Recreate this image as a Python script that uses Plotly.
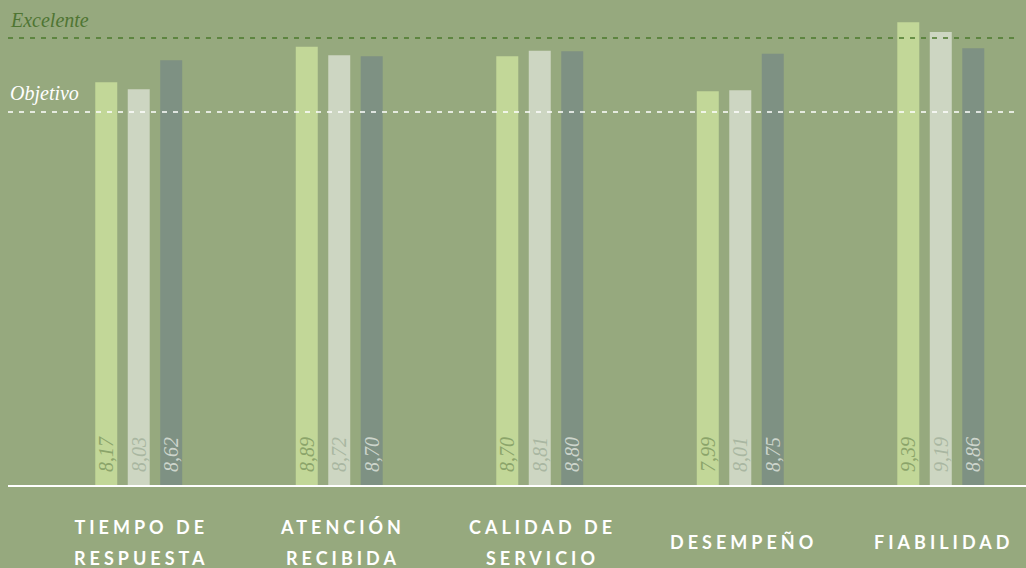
import plotly.graph_objects as go

# ---- data ----
categories = ["TIEMPO DE<br>RESPUESTA", "ATENCIÓN<br>RECIBIDA", "CALIDAD DE<br>SERVICIO",
              "DESEMPEÑO", "FIABILIDAD"]
series_a = [8.17, 8.89, 8.70, 7.99, 9.39]
series_b = [8.03, 8.72, 8.81, 8.01, 9.19]
series_c = [8.62, 8.70, 8.80, 8.75, 8.86]
excelente = 9.07
objetivo = 7.57
y_max = 9.84

# ---- styles ----
BG = "#96a97e"
bar_colors = ["#c2d798", "#cdd6c2", "#7e9183"]
text_colors = ["#8ba46a", "#a9b6a1", "#cdd5cc"]
series = [series_a, series_b, series_c]

def fmt(v):
    # leading no-break spaces give padding from the baseline
    return "\u00a0\u00a0" + f"{v:.2f}".replace(".", ",")

fig = go.Figure()
for vals, bc, tc in zip(series, bar_colors, text_colors):
    fig.add_trace(go.Bar(
        x=categories, y=vals,
        marker=dict(color=bc, line=dict(width=0)),
        text=[fmt(v) for v in vals],
        textposition="inside",
        insidetextanchor="start",
        textangle=-90,
        constraintext="none",
        textfont=dict(family="Liberation Serif", size=20, style="italic", color=tc),
        hoverinfo="skip",
    ))

# reference lines
fig.add_shape(type="line", xref="paper", x0=0, x1=0.9902, yref="y", y0=excelente, y1=excelente,
              line=dict(color="#4b792d", width=1.5, dash="5px,6px"), layer="above")
fig.add_shape(type="line", xref="paper", x0=0, x1=0.9902, yref="y", y0=objetivo, y1=objetivo,
              line=dict(color="white", width=1.5, dash="5px,6px"), layer="above")

fig.add_annotation(text="Excelente", xref="paper", x=0, xanchor="left", yref="y", y=excelente,
                   yanchor="middle", yshift=18, showarrow=False,
                   font=dict(family="Liberation Serif", size=20, style="italic", color="#4f7533"))
fig.add_annotation(text="Objetivo", xref="paper", x=0, xanchor="left", yref="y", y=objetivo,
                   yanchor="middle", yshift=18, showarrow=False,
                   font=dict(family="Liberation Serif", size=20, style="italic", color="white"))

# category labels (letter-spaced, wide line spacing)
for cat in categories:
    lines = cat.split("<br>")
    txt = "<br>".join(f"<span style='font-size:18px;letter-spacing:4px'>{ln}</span>" for ln in lines)
    fig.add_annotation(text=txt, xref="x", x=cat, yref="paper", y=-0.118, yanchor="middle",
                       xanchor="center", xshift=3, showarrow=False,
                       font=dict(family="Lato", size=24, weight=700, color="white"))

fig.update_layout(
    width=1026, height=568,
    margin=dict(l=8, r=0, t=0, b=83),
    paper_bgcolor=BG, plot_bgcolor=BG,
    barmode="group", bargap=0.514, bargroupgap=0.323,
    showlegend=False,
    uniformtext=dict(minsize=20, mode="show"),
    xaxis=dict(range=[-0.652, 4.425], showticklabels=False, showgrid=False, zeroline=False,
               showline=True, linecolor="white", linewidth=1.5, ticks=""),
    yaxis=dict(range=[0, y_max], visible=False, showgrid=False, zeroline=False),
)

fig.write_html("out.html", config={"displayModeBar": False},
               post_script="document.body.style.margin='0px';document.body.style.background='" + BG + "';")
